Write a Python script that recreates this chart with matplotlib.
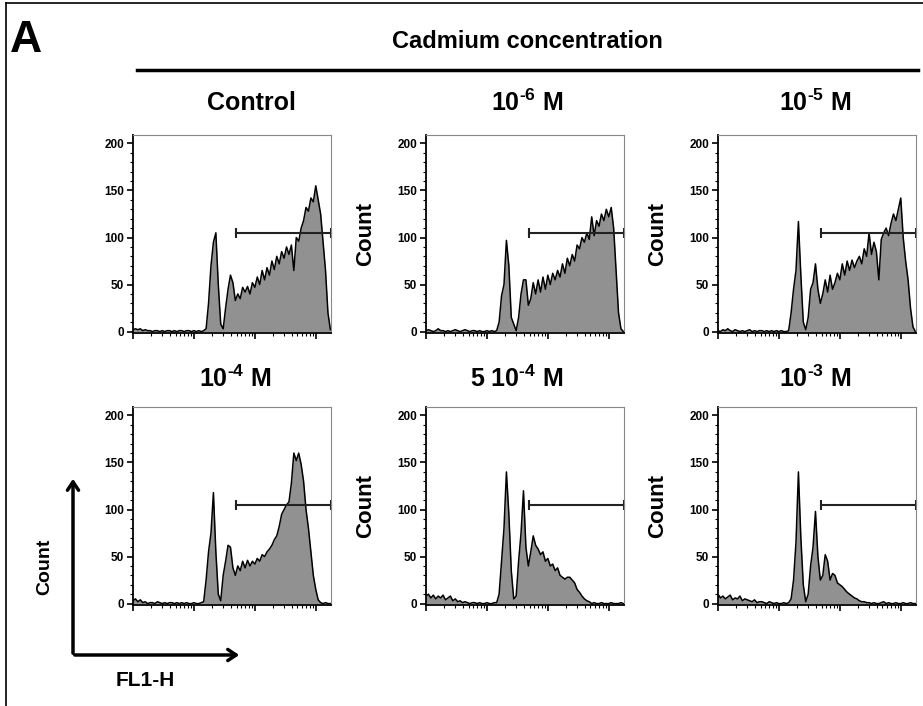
import matplotlib
matplotlib.use("Agg")
import matplotlib.pyplot as plt
import numpy as np
from matplotlib.ticker import LogLocator, MultipleLocator, NullFormatter
from matplotlib.patches import FancyArrowPatch
from matplotlib.lines import Line2D

plt.rcParams['font.family'] = ['Liberation Sans', 'DejaVu Sans']
plt.rcParams['font.weight'] = 'bold'
plt.rcParams['mathtext.fontset'] = 'custom'
plt.rcParams['mathtext.rm'] = 'Liberation Sans:bold'
plt.rcParams['mathtext.bf'] = 'Liberation Sans:bold'
plt.rcParams['mathtext.it'] = 'Liberation Sans:bold'
plt.rcParams['mathtext.default'] = 'bf'

# FL1-H bins, in decades (log10 of fluorescence), 82 bins
decades = np.round(np.arange(0, 3.25, 0.04), 2)

# counts
control = [2, 3, 2, 3, 1, 2, 1, 1, 0, 1,
           1, 0, 1, 0, 1, 1, 0, 1, 0, 1,
           1, 0, 1, 1, 0, 1, 0, 1, 0, 1,
           3, 30, 70, 95, 105, 50, 8, 3, 25, 45,
           60, 52, 33, 40, 35, 47, 42, 48, 40, 52,
           47, 58, 50, 65, 55, 68, 60, 75, 66, 80,
           72, 85, 78, 90, 82, 92, 65, 100, 96, 110,
           118, 132, 128, 142, 138, 155, 140, 125, 95, 65,
           20, 2]
cd_1e6 = [1, 2, 1, 0, 1, 3, 1, 1, 0, 1,
          0, 1, 2, 1, 0, 1, 2, 1, 0, 1,
          1, 0, 1, 0, 0, 1, 0, 1, 0, 1,
          10, 38, 50, 97, 70, 15, 8, 1, 15, 40,
          55, 55, 28, 35, 52, 40, 55, 42, 58, 45,
          60, 50, 62, 55, 65, 58, 72, 62, 78, 70,
          82, 75, 92, 88, 100, 95, 105, 98, 122, 102,
          118, 112, 125, 118, 130, 122, 132, 110, 65, 20,
          3, 0]
cd_1e5 = [1, 0, 2, 1, 3, 1, 0, 2, 1, 0,
          1, 0, 1, 2, 0, 1, 0, 1, 1, 0,
          1, 0, 1, 0, 1, 0, 1, 0, 0, 1,
          20, 45, 65, 117, 60, 10, 2, 15, 45, 52,
          72, 45, 30, 40, 55, 42, 60, 45, 52, 62,
          55, 72, 60, 75, 65, 76, 68, 75, 80, 72,
          88, 80, 105, 82, 95, 85, 55, 98, 105, 110,
          102, 115, 125, 118, 130, 142, 100, 75, 55, 25,
          5, 0]
cd_1e4 = [3, 5, 2, 4, 1, 2, 0, 1, 1, 0,
          2, 1, 0, 1, 0, 1, 1, 0, 1, 0,
          1, 0, 1, 0, 0, 1, 0, 0, 1, 2,
          25, 55, 75, 118, 55, 10, 3, 30, 45, 62,
          60, 38, 30, 40, 35, 45, 38, 46, 40, 45,
          42, 48, 45, 52, 50, 55, 58, 62, 68, 72,
          82, 95, 100, 105, 108, 128, 160, 152, 160, 148,
          130, 100, 80, 55, 30, 15, 4, 1, 0, 1,
          0, 0]
cd_5e4 = [8, 10, 6, 9, 5, 8, 6, 9, 4, 6,
          8, 3, 5, 2, 3, 1, 2, 1, 0, 1,
          1, 0, 1, 0, 0, 1, 0, 0, 1, 1,
          10, 45, 80, 140, 95, 35, 5, 8, 45, 75,
          120, 60, 40, 55, 72, 62, 58, 52, 55, 45,
          48, 40, 42, 35, 38, 30, 28, 26, 28, 28,
          25, 22, 15, 12, 8, 5, 3, 2, 0, 1,
          0, 0, 1, 0, 0, 0, 1, 0, 0, 0,
          1, 0]
cd_1e3 = [10, 6, 8, 5, 7, 9, 4, 6, 5, 8,
          3, 5, 4, 3, 2, 4, 1, 2, 2, 1,
          0, 2, 1, 0, 1, 0, 0, 1, 0, 1,
          5, 25, 65, 140, 70, 20, 2, 10, 40, 60,
          98, 50, 25, 30, 52, 45, 25, 32, 30, 22,
          20, 18, 15, 12, 10, 8, 6, 5, 3, 2,
          2, 1, 1, 0, 1, 0, 0, 1, 2, 0,
          1, 0, 0, 1, 0, 0, 1, 0, 0, 1,
          0, 0]

panels = [control, cd_1e6, cd_1e5, cd_1e4, cd_5e4, cd_1e3]
titles = ['Control', r'10$^{\text{-}6}$ M', r'10$^{\text{-}5}$ M',
          r'10$^{\text{-}4}$ M', r'5 10$^{\text{-}4}$ M', r'10$^{\text{-}3}$ M']
gate_start = 1.69   # decade where the marker begins
gate_end = 3.25
gate_y = 105

W, H = 923, 706
fig = plt.figure(figsize=(W / 100, H / 100), dpi=100)

def fx(px):
    return px / W

def fy(py):
    return 1 - py / H

col_left = [133, 426, 718]
row_top = [135, 407]
aw, ah = 198, 198
title_x = [[251, 527, 815], [235, 517, 815]]
title_y = [103, 379]

x = 10 ** decades
for k, counts in enumerate(panels):
    r, c = divmod(k, 3)
    ax = fig.add_axes([fx(col_left[c]), fy(row_top[r] + ah), fx(aw), ah / H])
    ax.fill_between(x, 0, counts, color='#919191', lw=0)
    ax.plot(x, counts, color='black', lw=1.1)
    ax.plot([10 ** gate_start, 10 ** gate_end], [gate_y, gate_y], color='#222222',
            lw=1.5, marker='|', ms=7, mew=1.5, clip_on=False)
    ax.set_xscale('log')
    ax.set_xlim(1, 10 ** 3.25)
    ax.set_ylim(-1.5, 209)
    ax.xaxis.set_major_locator(LogLocator(base=10, numticks=10))
    ax.xaxis.set_minor_locator(LogLocator(base=10, subs=np.arange(2, 10), numticks=10))
    ax.xaxis.set_major_formatter(NullFormatter())
    ax.xaxis.set_minor_formatter(NullFormatter())
    ax.set_yticks([0, 50, 100, 150, 200])
    ax.yaxis.set_minor_locator(MultipleLocator(10))
    ax.tick_params(axis='both', which='major', length=4.5, width=1.2, labelsize=8.5, pad=2)
    ax.tick_params(axis='both', which='minor', length=2.2, width=0.8)
    for s in ['left', 'bottom']:
        ax.spines[s].set_linewidth(1.3)
        ax.spines[s].set_color('black')
    for s in ['top', 'right']:
        ax.spines[s].set_linewidth(0.8)
        ax.spines[s].set_color('#888888')
    fig.text(fx(title_x[r][c]), fy(title_y[r]), titles[k], fontsize=18,
             ha='center', va='center')
    if c > 0:
        fig.text(fx(col_left[c] - 60), fy(row_top[r] + ah / 2), 'Count',
                 fontsize=16, rotation=90, ha='center', va='center')

# header
fig.text(fx(26), fy(40), 'A', fontsize=32, ha='center', va='center')
fig.text(fx(527), fy(42), 'Cadmium concentration', fontsize=17,
         ha='center', va='center')
fig.add_artist(Line2D([fx(137), fx(918)], [fy(70), fy(70)], color='black', lw=2.5))

# frame (top and left edges)
fig.add_artist(Line2D([fx(6), fx(6)], [0, fy(3)], color='black', lw=1.2))
fig.add_artist(Line2D([fx(6), 1], [fy(3), fy(3)], color='black', lw=1.2))

# axes key: Count up, FL1-H right
fig.add_artist(FancyArrowPatch((fx(73), fy(656)), (fx(73), fy(476)),
                               arrowstyle='->,head_length=6,head_width=4',
                               lw=2.5, color='black', mutation_scale=1))
fig.add_artist(FancyArrowPatch((fx(72), fy(655)), (fx(242), fy(655)),
                               arrowstyle='->,head_length=6,head_width=4',
                               lw=2.5, color='black', mutation_scale=1))
fig.text(fx(45), fy(567), 'Count', fontsize=14, rotation=90, ha='center', va='center')
fig.text(fx(145), fy(681), 'FL1-H', fontsize=15, ha='center', va='center')

fig.savefig('out.png', dpi=100)
